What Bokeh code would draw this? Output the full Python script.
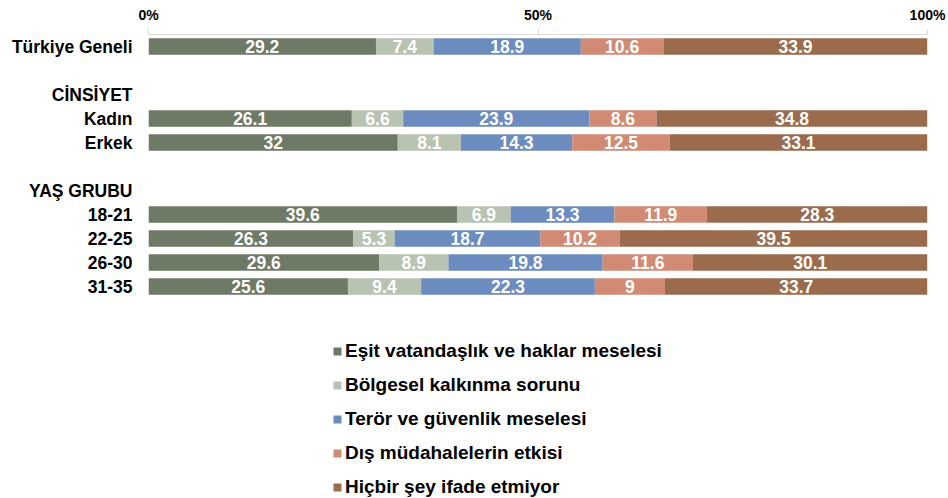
from bokeh.plotting import figure
from bokeh.models import (ColumnDataSource, FactorRange, Range1d, FixedTicker,
                          LabelSet, Legend, LegendItem)
from bokeh.layouts import column
from bokeh.core.properties import value
from bokeh.embed import file_html
from bokeh.resources import INLINE

# ---- data ----
rows = ["Türkiye Geneli", " ", "CİNSİYET", "Kadın", "Erkek", "  ",
        "YAŞ GRUBU", "18-21", "22-25", "26-30", "31-35"]
groups = ["Türkiye Geneli", "Kadın", "Erkek", "18-21", "22-25", "26-30", "31-35"]
series = ["Eşit vatandaşlık ve haklar meselesi", "Bölgesel kalkınma sorunu",
          "Terör ve güvenlik meselesi", "Dış müdahalelerin etkisi",
          "Hiçbir şey ifade etmiyor"]
esit = [29.2, 26.1, 32, 39.6, 26.3, 29.6, 25.6]
bolgesel = [7.4, 6.6, 8.1, 6.9, 5.3, 8.9, 9.4]
teror = [18.9, 23.9, 14.3, 13.3, 18.7, 19.8, 22.3]
dis = [10.6, 8.6, 12.5, 11.9, 10.2, 11.6, 9]
hicbir = [33.9, 34.8, 33.1, 28.3, 39.5, 30.1, 33.7]
tick_values = [0, 50, 100]
tick_labels = ["0%", "50%", "100%"]
colors = ["#6E7966", "#B8C3B2", "#6C8CBF", "#D18B74", "#9B6B4D"]

keys = ["s0", "s1", "s2", "s3", "s4"]
values = [esit, bolgesel, teror, dis, hicbir]

FONT = "Liberation Sans"

p = figure(width=946, height=298, output_backend="svg", toolbar_location=None,
           x_range=Range1d(0, 100), y_range=FactorRange(factors=list(reversed(rows))),
           x_axis_location="above",
           min_border_left=148, min_border_right=19, min_border_top=34,
           min_border_bottom=0)
p.outline_line_color = None
p.grid.visible = False

data = {"y": groups}
for k, v in zip(keys, values):
    data[k] = v
src = ColumnDataSource(data)
rends = p.hbar_stack(keys, y="y", height=0.68, color=colors, source=src,
                     line_color=None)

# segment labels
lx, ly, lt = [], [], []
for i, g in enumerate(groups):
    left = 0.0
    for v in values:
        val = v[i]
        lx.append(left + val / 2.0)
        ly.append(g)
        lt.append(f"{val:g}")
        left += val
lsrc = ColumnDataSource(dict(x=lx, y=ly, t=lt))
p.add_layout(LabelSet(x="x", y="y", text="t", source=lsrc, text_color="white",
                      text_font=value(FONT), text_font_style="bold",
                      text_font_size="17.5px", text_align="center",
                      text_baseline="middle"))

# x axis (top)
xa = p.xaxis[0]
xa.ticker = FixedTicker(ticks=tick_values)
xa.major_label_overrides = {t: l for t, l in zip(tick_values, tick_labels)}
xa.axis_line_color = "#D9D9D9"
xa.major_tick_line_color = "#D9D9D9"
xa.major_tick_out = 5
xa.major_tick_in = 0
xa.minor_tick_line_color = None
xa.major_label_text_font = FONT
xa.major_label_text_font_style = "bold"
xa.major_label_text_font_size = "14px"
xa.major_label_text_color = "black"
xa.major_label_standoff = 7

ya = p.yaxis[0]
ya.axis_line_color = None
ya.major_tick_line_color = None
ya.minor_tick_line_color = None
ya.major_tick_out = 0
ya.major_label_standoff = 16
ya.major_label_text_font = FONT
ya.major_label_text_font_style = "bold"
ya.major_label_text_font_size = "17.5px"
ya.major_label_text_color = "black"

# ---- legend panel (separate figure below, same series, renderers hidden) ----
lf = figure(width=946, height=200, output_backend="svg", toolbar_location=None,
            x_range=Range1d(0, 100), y_range=FactorRange(factors=list(reversed(rows))),
            min_border_left=148, min_border_right=19, min_border_top=0,
            min_border_bottom=0)
lf.axis.visible = False
lf.grid.visible = False
lf.outline_line_color = None
lrs = lf.hbar_stack(keys, y="y", height=0.68, color=colors, source=src,
                    line_color=None, visible=False)
items = [LegendItem(label=s, renderers=[r]) for s, r in zip(series, lrs)]
legend = Legend(items=items, location=(184, 0), orientation="vertical",
                glyph_width=10, glyph_height=10, label_height=20, spacing=12,
                padding=0, margin=0, border_line_color=None,
                background_fill_alpha=0, label_standoff=3,
                inactive_fill_alpha=0, click_policy="none",
                label_text_font=FONT, label_text_font_style="bold",
                label_text_font_size="19px", label_text_color="black")
lf.add_layout(legend, "center")

layout = column(p, lf, spacing=0)
open("out.html", "w").write(file_html(layout, INLINE))
